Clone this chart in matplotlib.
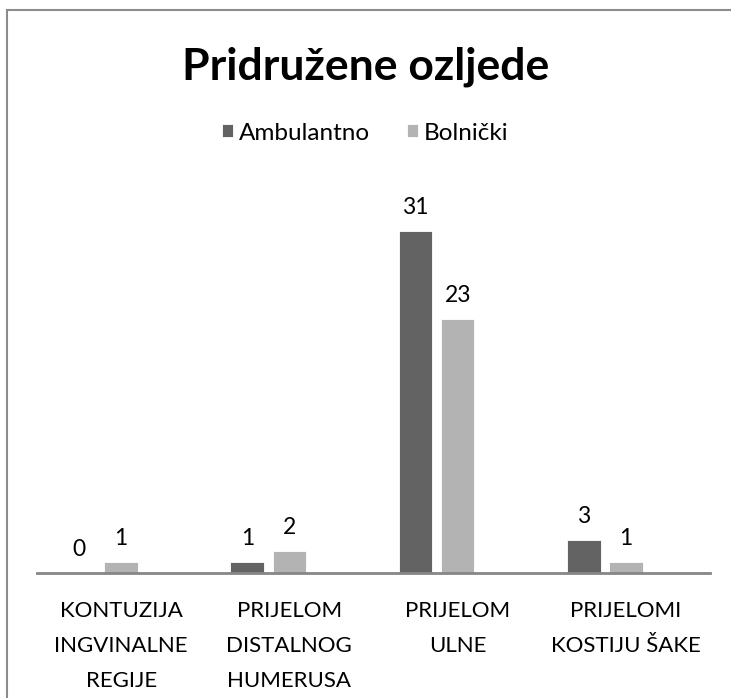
import numpy as np
import matplotlib
matplotlib.use('Agg')
import matplotlib.pyplot as plt
from matplotlib.patches import Rectangle

plt.rcParams['font.family'] = ['Lato', 'DejaVu Sans']

# data
categories = ['KONTUZIJA\nINGVINALNE\nREGIJE', 'PRIJELOM\nDISTALNOG\nHUMERUSA',
              'PRIJELOM\nULNE', 'PRIJELOMI\nKOSTIJU ŠAKE']
ambulantno = [0, 1, 31, 3]
bolnicki = [1, 2, 23, 1]
series_names = ['Ambulantno', 'Bolnički']
colors = ['#636363', '#b3b3b3']

W, H = 731, 698
fig = plt.figure(figsize=(W / 100, H / 100), dpi=100)

# axes placed in pixel terms
x0, x1 = 37, 710
ybase, ytop = 573, 198
ax = fig.add_axes([x0 / W, 1 - ybase / H, (x1 - x0) / W, (ybase - ytop) / H])

x = np.arange(len(categories))
bw = 0.2
off = 0.25
for i, (vals, c) in enumerate(zip([ambulantno, bolnicki], colors)):
    xs = x + (i - 1) * off
    ax.bar(xs, vals, width=bw, color=c, edgecolor='white', linewidth=0.6,
           label=series_names[i])
    for xx, v in zip(xs, vals):
        ax.text(xx, v + 1.2, str(v), ha='center', va='bottom', fontsize=16.5)

ax.set_xlim(-0.5, len(categories) - 0.5)
ax.set_ylim(0, 34)
ax.set_xticks(x)
ax.set_xticklabels(categories, fontsize=16, linespacing=1.95)
ax.tick_params(axis='x', length=0, pad=20)
ax.set_yticks([])
for s in ['top', 'right', 'left']:
    ax.spines[s].set_visible(False)
ax.spines['bottom'].set_color('#868686')
ax.spines['bottom'].set_linewidth(2)

fig.text(0.5, 1 - 67 / H, 'Pridružene ozljede', ha='center', va='center',
         fontsize=32, fontweight='bold')
fig.legend(loc='center', bbox_to_anchor=(0.5, 1 - 133 / H), ncol=2,
           frameon=False, fontsize=17.5, handlelength=0.45, handleheight=0.45,
           handletextpad=0.25, columnspacing=1.5)

# chart border
fig.patches.append(Rectangle((6.5 / W, -0.1), 2, 1.1 - 10.5 / H,
                             transform=fig.transFigure, fill=False,
                             edgecolor='#8c8c8c', linewidth=1.5))

plt.savefig('out.png', dpi=100)
